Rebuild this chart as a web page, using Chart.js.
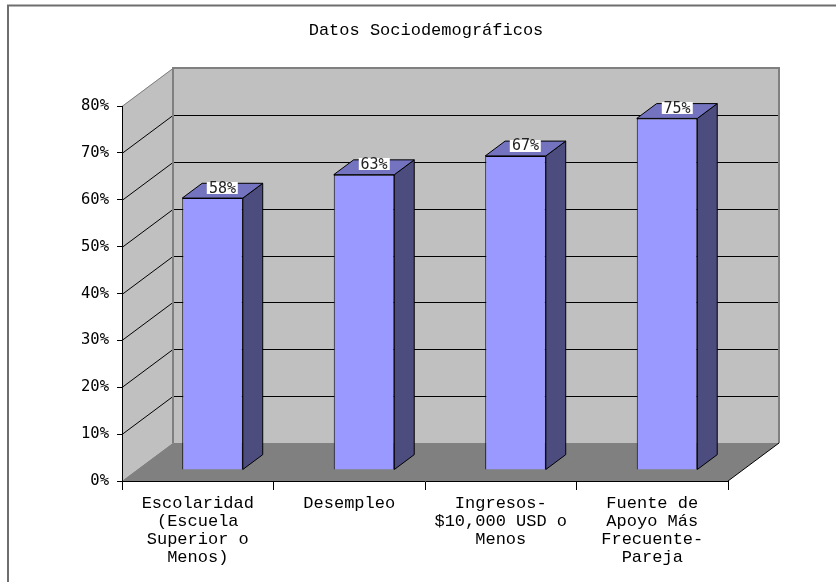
<!DOCTYPE html>
<html>
<head>
<meta charset="utf-8">
<script src="https://cdn.jsdelivr.net/npm/chart.js@4"></script>
<style>
  html, body { margin: 0; padding: 0; background: #fff; }
  canvas { display: block; }
</style>
</head>
<body>
<canvas id="chart" width="836" height="582"></canvas>
<script>
const categories = [
    ['Escolaridad', '(Escuela', 'Superior o', 'Menos)'],
    ['Desempleo'],
    ['Ingresos-', '$10,000 USD o', 'Menos'],
    ['Fuente de', 'Apoyo Más', 'Frecuente-', 'Pareja'],
];
const percentages = [58, 63, 67, 75];
const gridValues = [0, 10, 20, 30, 40, 50, 60, 70, 80];

// depth of the 3D box and where the bars sit inside it
const DEPTH_X = 51, DEPTH_Y = -38;
const BAR_START = 0.29, BAR_DEPTH = 0.39;

const walls3d = {
    id: 'walls3d',
    beforeDraw(chart) {
        const ctx = chart.ctx;
        const y = chart.scales.y;
        const L = chart.chartArea.left, R = chart.chartArea.right;
        const T = y.getPixelForValue(80), B = y.getPixelForValue(0);
        ctx.save();
        // outer frame
        ctx.strokeStyle = '#6e6e6e';
        ctx.lineWidth = 2;
        ctx.strokeRect(8, 5.5, 900, 700);

        // back wall
        ctx.fillStyle = '#c0c0c0';
        ctx.fillRect(L + DEPTH_X, T + DEPTH_Y, R - L, B - T);
        // left wall
        ctx.beginPath();
        ctx.moveTo(L, T);
        ctx.lineTo(L + DEPTH_X, T + DEPTH_Y);
        ctx.lineTo(L + DEPTH_X, B + DEPTH_Y);
        ctx.lineTo(L, B);
        ctx.closePath();
        ctx.fill();
        // floor
        ctx.fillStyle = '#808080';
        ctx.beginPath();
        ctx.moveTo(L, B);
        ctx.lineTo(R, B);
        ctx.lineTo(R + DEPTH_X, B + DEPTH_Y);
        ctx.lineTo(L + DEPTH_X, B + DEPTH_Y);
        ctx.closePath();
        ctx.fill();

        // gridlines
        ctx.lineWidth = 1;
        gridValues.forEach(v => {
            const py = Math.round(y.getPixelForValue(v)) + 0.5;
            const edge = v === 0 || v === 80;
            ctx.strokeStyle = edge ? '#808080' : '#000';
            ctx.beginPath();
            ctx.moveTo(L, py);
            ctx.lineTo(L + DEPTH_X, py + DEPTH_Y);
            ctx.lineTo(R + DEPTH_X, py + DEPTH_Y);
            ctx.stroke();
        });
        // wall outlines
        ctx.strokeStyle = '#808080';
        ctx.lineWidth = 2;
        ctx.beginPath();
        ctx.moveTo(L + DEPTH_X, B + DEPTH_Y);
        ctx.lineTo(L + DEPTH_X, T + DEPTH_Y);
        ctx.lineTo(R + DEPTH_X, T + DEPTH_Y);
        ctx.lineTo(R + DEPTH_X, B + DEPTH_Y);
        ctx.stroke();
        ctx.strokeStyle = '#000';
        ctx.lineWidth = 1;
        ctx.beginPath();
        ctx.moveTo(R, B);
        ctx.lineTo(R + DEPTH_X, B + DEPTH_Y);
        ctx.stroke();
        ctx.restore();
    },
    beforeDatasetsDraw(chart) {
        chart.ctx.save();
        chart.ctx.translate(DEPTH_X * BAR_START, DEPTH_Y * BAR_START);
    },
    afterDatasetsDraw(chart) {
        const ctx = chart.ctx;
        const dx = DEPTH_X * BAR_DEPTH, dy = DEPTH_Y * BAR_DEPTH;
        const meta = chart.getDatasetMeta(0);
        ctx.lineWidth = 1;
        ctx.strokeStyle = '#000';
        ctx.lineJoin = 'round';
        meta.data.forEach((bar, i) => {
            const p = bar.getProps(['x', 'y', 'base', 'width'], true);
            const l = p.x - p.width / 2, r = p.x + p.width / 2;
            // side
            ctx.fillStyle = '#4c4c7f';
            ctx.beginPath();
            ctx.moveTo(r, p.y);
            ctx.lineTo(r + dx, p.y + dy);
            ctx.lineTo(r + dx, p.base + dy);
            ctx.lineTo(r, p.base);
            ctx.closePath();
            ctx.fill();
            ctx.stroke();
            // top
            ctx.fillStyle = '#7373c0';
            ctx.beginPath();
            ctx.moveTo(l, p.y);
            ctx.lineTo(l + dx, p.y + dy);
            ctx.lineTo(r + dx, p.y + dy);
            ctx.lineTo(r, p.y);
            ctx.closePath();
            ctx.fill();
            ctx.stroke();
            // value label
            const text = percentages[i] + '%';
            ctx.font = '15px "DejaVu Sans Mono"';
            const w = ctx.measureText(text).width + 4;
            const cx = p.x + dx / 2, cy = p.y + dy / 2 - 3;
            ctx.fillStyle = '#fff';
            ctx.fillRect(Math.round(cx - w / 2), Math.round(cy - 6), Math.round(w), 12);
            ctx.fillStyle = '#222';
            ctx.textAlign = 'center';
            ctx.textBaseline = 'middle';
            ctx.fillText(text, cx, cy + 1);
        });
        ctx.restore();
    }
};

new Chart(document.getElementById('chart'), {
    type: 'bar',
    data: {
        labels: categories,
        datasets: [{
            data: percentages,
            backgroundColor: '#9999ff',
            borderColor: '#000',
            borderWidth: 1,
            barPercentage: 1,
            categoryPercentage: 0.4,
        }]
    },
    options: {
        responsive: false,
        animation: false,
        events: [],
        clip: false,
        layout: { padding: { left: 16, right: 0, top: 0, bottom: 0 } },
        plugins: {
            legend: { display: false },
            tooltip: { enabled: false },
            title: {
                display: true,
                text: 'Datos Sociodemográficos',
                color: '#000',
                font: { family: '"Liberation Mono"', size: 17, weight: 'normal', lineHeight: 1.2 },
                padding: { top: 20, bottom: 65.6 },
            },
        },
        scales: {
            x: {
                afterFit(scale) { scale.height = 101; },
                grid: { offset: true, drawOnChartArea: false, tickLength: 9, color: '#000' },
                border: { color: '#000', width: 1 },
                ticks: {
                    color: '#000',
                    autoSkip: false,
                    maxRotation: 0,
                    padding: 4,
                    font: { family: '"Liberation Mono"', size: 17, lineHeight: '18px' },
                },
            },
            y: {
                min: 0,
                max: 80,
                afterFit(scale) { scale.width = 106; },
                grid: { drawOnChartArea: false, tickLength: 5, color: '#000' },
                border: { color: '#000', width: 1 },
                ticks: {
                    stepSize: 10,
                    color: '#000',
                    padding: 8,
                    font: { family: '"DejaVu Sans Mono"', size: 15.5 },
                    callback: v => v + '%',
                },
            },
            // empty right-hand strip that leaves room for the depth of the box
            side: {
                type: 'linear',
                position: 'right',
                afterFit(scale) { scale.width = 108; },
                grid: { display: false },
                border: { display: false },
                ticks: { display: false },
            },
        },
    },
    plugins: [walls3d],
});
</script>
</body>
</html>
